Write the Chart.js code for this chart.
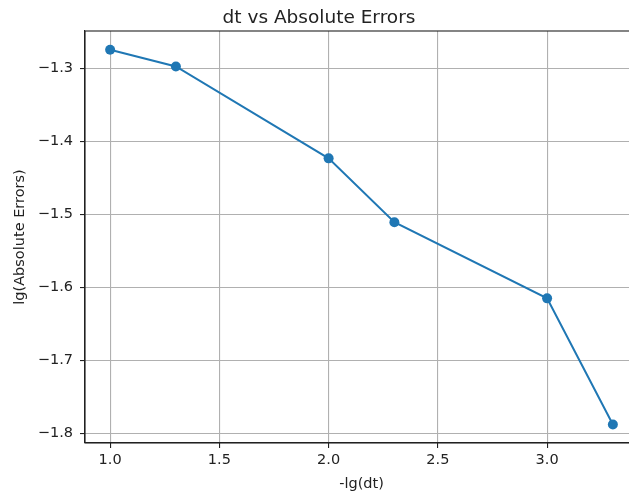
<!DOCTYPE html>
<html><head><meta charset="utf-8">
<script src="https://cdn.jsdelivr.net/npm/chart.js@4/dist/chart.umd.min.js"></script>
<style>html,body{margin:0;padding:0;overflow:hidden;background:#fff;width:629px;height:493px}#wrap{position:absolute;left:0;top:0;width:723px;height:493px}</style>
</head><body><div id="wrap"><canvas id="c" width="723" height="493"></canvas></div>
<script>
const xValues = [1.0, 1.301, 2.0, 2.301, 3.0, 3.301];
const yValues = [-1.274, -1.297, -1.423, -1.5105, -1.615, -1.788];
const xTicks = [1.0, 1.5, 2.0, 2.5, 3.0];
const xTickLabels = ['1.0', '1.5', '2.0', '2.5', '3.0'];
const yTicks = [-1.8, -1.7, -1.6, -1.5, -1.4, -1.3];
const yTickLabels = ['\u22121.8', '\u22121.7', '\u22121.6', '\u22121.5', '\u22121.4', '\u22121.3'];

const FONT = 'DejaVu Sans';
const TXT = '#222';
const frame = {
  id: 'frame',
  afterDraw(chart) {
    const a = chart.chartArea, ctx = chart.ctx;
    ctx.save();
    ctx.strokeStyle = '#222';
    ctx.lineWidth = 1.1;
    ctx.strokeRect(a.left, a.top, a.right - a.left, a.bottom - a.top);
    ctx.restore();
  }
};
new Chart(document.getElementById('c'), {
  type: 'line',
  data: {
    datasets: [{
      data: xValues.map((x, i) => ({x: x, y: yValues[i]})),
      borderColor: '#1f77b4',
      backgroundColor: '#1f77b4',
      borderWidth: 2,
      pointRadius: 5,
      pointHoverRadius: 5,
      pointBorderWidth: 0,
      tension: 0,
      fill: false
    }]
  },
  options: {
    responsive: false,
    animation: false,
    events: [],
    layout: {padding: {left: 0, right: 85, top: 0, bottom: 0}},
    plugins: {
      legend: {display: false},
      tooltip: {enabled: false},
      title: {display: true, text: 'dt vs Absolute Errors', color: TXT,
        font: {family: FONT, size: 18.5, weight: 'normal'}, padding: {top: 7, bottom: 1.8}}
    },
    scales: {
      x: {
        type: 'linear', min: 0.885, max: 3.416,
        afterBuildTicks: s => { s.ticks = xTicks.map(v => ({value: v})); },
        afterFit: s => { s.height = 50; },
        ticks: {color: TXT, font: {family: FONT, size: 14.5}, padding: 4,
          callback: (v) => { const i = xTicks.findIndex(t => Math.abs(t - v) < 1e-9); return i >= 0 ? xTickLabels[i] : ''; }},
        grid: {color: '#b0b0b0', lineWidth: 1.1, tickLength: 5, tickColor: '#222', tickWidth: 1.1},
        border: {display: true, color: '#222', width: 1.1},
        title: {display: true, text: '-lg(dt)', color: TXT, font: {family: FONT, size: 14.5}, padding: {top: 4, bottom: 0}}
      },
      y: {
        type: 'linear', min: -1.8134, max: -1.2483,
        afterBuildTicks: s => { s.ticks = yTicks.map(v => ({value: v})); },
        afterFit: s => { s.width = 85; },
        ticks: {color: TXT, font: {family: FONT, size: 14.5}, padding: 7,
          callback: (v) => { const i = yTicks.findIndex(t => Math.abs(t - v) < 1e-9); return i >= 0 ? yTickLabels[i] : ''; }},
        grid: {color: '#b0b0b0', lineWidth: 1.1, tickLength: 5, tickColor: '#222', tickWidth: 1.1},
        border: {display: true, color: '#222', width: 1.1},
        title: {display: true, text: 'lg(Absolute Errors)', color: TXT, font: {family: FONT, size: 14.5}, padding: {top: 12, bottom: 0}}
      }
    }
  },
  plugins: [frame]
});
</script></body></html>
